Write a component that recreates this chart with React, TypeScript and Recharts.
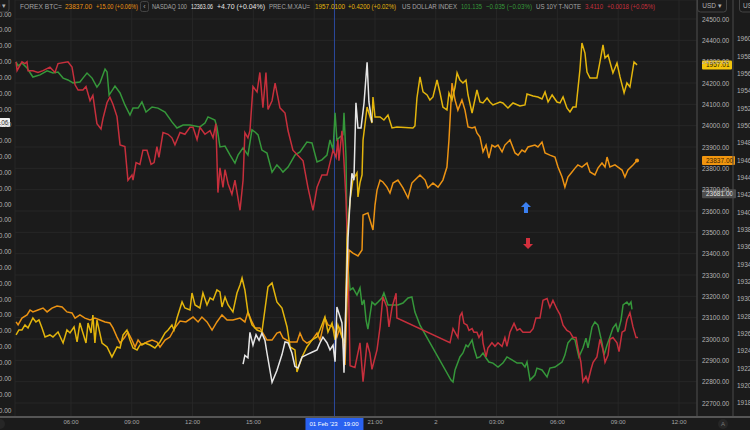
import React from 'react';
import { LineChart, Line, XAxis, YAxis, CartesianGrid, ReferenceLine, ReferenceDot } from 'recharts';

const BG = '#1b1b1b';
const FONT = '"Liberation Sans", Arial, sans-serif';

const C_BTC = '#ec9313';
const C_NDX = '#e6e6e6';
const C_XAU = '#e3b50c';
const C_DXY = '#35973a';
const C_TNX = '#c62f3c';

// time axis: hours since 01 Feb '23 00:00
const timeTicks = [6, 9, 12, 15, 18, 21, 24, 27, 30, 33, 36];
const timeLabels = ['06:00', '09:00', '12:00', '15:00', '', '21:00', '2', '03:00', '06:00', '09:00', '12:00'];

const btcTicks = [22700, 22800, 22900, 23000, 23100, 23200, 23300, 23400, 23500, 23600, 23700, 23800, 23900, 24000, 24100, 24200, 24300, 24400, 24500];
const xauTicks = [1918, 1920, 1922, 1924, 1926, 1928, 1930, 1932, 1934, 1936, 1938, 1940, 1942, 1944, 1946, 1948, 1950, 1952, 1954, 1956, 1958, 1960];
const ndxTicks = [12000, 12020, 12040, 12060, 12080, 12100, 12120, 12140, 12160, 12180, 12200, 12220, 12240, 12260, 12280, 12300, 12320, 12340, 12360, 12380, 12400, 12420, 12440, 12460, 12480, 12500];

// FOREX BTC=  [hour, price]
const btc: [number, number][] = [
  [3.29, 23080], [3.39, 23066], [3.58, 23098], [3.83, 23113], [3.98, 23136], [4.12, 23127], [4.37, 23136], [4.62, 23145],
  [4.82, 23127], [5.06, 23145], [5.31, 23155], [5.56, 23150], [5.80, 23127], [6.05, 23122], [6.20, 23098], [6.44, 23113],
  [6.69, 23098], [6.94, 23089], [7.18, 23098], [7.43, 23089], [7.68, 23080], [7.92, 23075], [8.07, 23052], [8.27, 23009],
  [8.42, 22981], [8.66, 23009], [8.81, 23033], [9.01, 22995], [9.16, 22962], [9.31, 22995], [9.50, 22972], [9.75, 22986],
  [10.00, 22995], [10.24, 22986], [10.39, 22962], [10.64, 22995], [10.88, 23009], [11.13, 23052], [11.38, 23084], [11.67, 23080],
  [12.02, 23103], [12.27, 23080], [12.46, 23103], [12.71, 23080], [12.96, 23042], [13.20, 23080], [13.45, 23113], [13.70, 23089],
  [13.99, 23089], [14.34, 23098], [14.58, 23080], [14.73, 23127], [14.93, 23080], [15.08, 23052], [15.32, 23052], [15.47, 23028],
  [15.67, 22995], [15.92, 22995], [16.16, 23028], [16.31, 23033], [16.46, 23005], [16.81, 22986], [17.15, 22986], [17.30, 23028],
  [17.45, 22995], [17.64, 22981], [17.89, 22995], [18.14, 23028], [18.29, 22995], [18.53, 23098], [18.68, 23066], [18.93, 23056],
  [19.12, 23009], [19.27, 23052], [19.42, 22995], [19.52, 22878], [19.62, 23183], [19.72, 23417], [19.91, 23403], [20.16, 23389],
  [20.36, 23417], [20.41, 23581], [20.65, 23591], [20.90, 23511], [21.00, 23628], [21.10, 23698], [21.25, 23745], [21.39, 23736],
  [21.59, 23712], [21.74, 23684], [21.89, 23731], [22.13, 23745], [22.38, 23708], [22.63, 23661], [22.82, 23731], [22.97, 23745],
  [23.22, 23769], [23.47, 23745], [23.61, 23708], [23.86, 23731], [24.11, 23712], [24.35, 23745], [24.55, 23806], [24.65, 23933],
  [24.80, 24200], [24.95, 24120], [25.09, 24073], [25.29, 24120], [25.44, 24073], [25.59, 23994], [25.79, 23989], [25.93, 23994],
  [26.03, 23966], [26.18, 23947], [26.33, 23877], [26.48, 23909], [26.62, 23848], [26.77, 23909], [26.92, 23900], [27.07, 23909],
  [27.27, 23877], [27.41, 23909], [27.66, 23933], [27.91, 23872], [28.06, 23862], [28.25, 23886], [28.40, 23877], [28.55, 23900],
  [28.89, 23909], [29.04, 23900], [29.24, 23923], [29.39, 23872], [29.63, 23862], [29.88, 23853], [30.03, 23806], [30.23, 23759],
  [30.37, 23712], [30.52, 23759], [30.72, 23783], [30.87, 23801], [31.01, 23816], [31.21, 23806], [31.46, 23825], [31.61, 23783],
  [31.85, 23769], [32.00, 23801], [32.20, 23825], [32.35, 23806], [32.45, 23853], [32.59, 23806], [32.84, 23816], [32.99, 23806],
  [33.19, 23792], [33.33, 23759], [33.48, 23792], [33.73, 23816], [33.93, 23837],
];

// PREC.M.XAU=
const xau: [number, number][] = [
  [3.29, 1925.85], [3.43, 1926.42], [3.58, 1926.42], [3.73, 1927.0], [3.88, 1926.66], [4.12, 1927.81], [4.27, 1927.35], [4.42, 1927.58],
  [4.57, 1926.66], [4.72, 1925.62], [4.96, 1925.85], [5.11, 1925.62], [5.36, 1926.19], [5.61, 1924.92], [5.80, 1926.42], [5.95, 1926.08],
  [6.15, 1926.77], [6.30, 1925.04], [6.44, 1927.23], [6.59, 1926.08], [6.74, 1924.92], [6.84, 1927.23], [6.99, 1926.08], [7.08, 1928.15],
  [7.18, 1924.92], [7.28, 1927.58], [7.53, 1924.92], [7.78, 1924.46], [8.02, 1923.31], [8.27, 1924.46], [8.42, 1924.35], [8.57, 1925.85],
  [8.76, 1926.42], [8.91, 1925.27], [9.06, 1924.35], [9.26, 1924.12], [9.40, 1924.69], [9.65, 1924.92], [9.90, 1924.69], [10.14, 1924.35],
  [10.39, 1925.04], [10.64, 1926.08], [10.79, 1926.42], [10.98, 1927.0], [11.08, 1926.42], [11.23, 1927.81], [11.48, 1929.66], [11.62, 1928.96],
  [11.87, 1928.73], [11.97, 1930.69], [12.12, 1929.31], [12.36, 1928.96], [12.51, 1930.69], [12.71, 1929.31], [12.86, 1930.12], [13.01, 1929.89],
  [13.20, 1931.04], [13.35, 1930.81], [13.45, 1929.08], [13.60, 1930.23], [13.75, 1929.31], [13.99, 1928.5], [14.19, 1930.69], [14.34, 1931.62],
  [14.44, 1932.42], [14.58, 1931.04], [14.73, 1928.5], [14.93, 1927.0], [15.18, 1926.42], [15.42, 1926.19], [15.72, 1931.39], [15.92, 1931.85],
  [16.16, 1929.66], [16.41, 1928.96], [16.66, 1926.77], [16.81, 1924.46], [17.05, 1924.12], [17.15, 1921.58], [17.40, 1923.31], [17.64, 1924.46],
  [17.89, 1925.27], [18.14, 1925.62], [18.38, 1927.0], [18.53, 1927.92], [18.68, 1926.19], [18.88, 1927.23], [19.03, 1925.27], [19.17, 1927.0],
  [19.37, 1925.62], [19.52, 1924.92], [19.62, 1936.81], [19.77, 1941.42], [19.91, 1943.73], [20.11, 1944.54], [20.16, 1941.77], [20.26, 1943.39],
  [20.36, 1944.31], [20.41, 1948.35], [20.61, 1952.15], [20.70, 1951.46], [20.85, 1950.31], [20.90, 1953.31], [21.00, 1951.0], [21.25, 1951.0],
  [21.44, 1950.65], [21.64, 1951.23], [21.84, 1949.73], [22.08, 1949.85], [22.87, 1949.73], [22.97, 1949.96], [23.07, 1953.19], [23.22, 1955.62],
  [23.37, 1953.89], [23.57, 1953.54], [23.71, 1952.96], [23.86, 1953.31], [24.06, 1955.27], [24.21, 1953.77], [24.35, 1952.15], [24.55, 1951.81],
  [24.65, 1953.77], [24.80, 1952.96], [24.95, 1954.46], [25.05, 1956.08], [25.19, 1955.27], [25.34, 1954.92], [25.49, 1955.27], [25.59, 1953.54],
  [25.79, 1951.46], [26.03, 1954.12], [26.18, 1952.73], [26.33, 1952.62], [26.53, 1953.19], [26.67, 1952.73], [26.82, 1952.39], [27.17, 1952.73],
  [27.31, 1952.62], [27.56, 1952.04], [27.81, 1952.62], [28.15, 1952.27], [28.40, 1952.39], [28.50, 1953.65], [28.80, 1953.42], [29.04, 1953.31],
  [29.24, 1953.08], [29.39, 1953.89], [29.54, 1952.73], [29.74, 1953.54], [29.98, 1952.73], [30.13, 1952.62], [30.28, 1953.31], [30.47, 1952.04],
  [30.62, 1951.58], [30.77, 1952.15], [30.92, 1952.15], [31.11, 1956.42], [31.21, 1959.54], [31.36, 1958.38], [31.46, 1956.19], [31.61, 1955.5],
  [31.95, 1955.5], [32.10, 1957.35], [32.25, 1959.31], [32.35, 1957.81], [32.50, 1958.15], [32.74, 1956.08], [32.94, 1957.23], [33.09, 1955.62],
  [33.29, 1953.77], [33.43, 1954.92], [33.58, 1954.46], [33.78, 1957.35], [33.93, 1957.01],
];

// NASDAQ 100 (cash session only)
const ndx: [number, number][] = [
  [14.49, 12058], [14.58, 12069], [14.73, 12066], [14.83, 12098], [14.98, 12082], [15.13, 12095], [15.28, 12088], [15.42, 12097],
  [15.57, 12088], [15.67, 12072], [15.92, 12035], [16.16, 12050], [16.41, 12070], [16.56, 12086], [16.71, 12085], [16.90, 12072],
  [17.05, 12055], [17.20, 12053], [17.40, 12067], [17.64, 12070], [17.89, 12073], [18.14, 12076], [18.29, 12085], [18.43, 12092],
  [18.63, 12085], [18.78, 12076], [18.93, 12082], [19.03, 12061], [19.12, 12130], [19.27, 12118], [19.37, 12110], [19.42, 12085],
  [19.47, 12047], [19.57, 12139], [19.67, 12218], [19.77, 12265], [19.86, 12299], [19.96, 12290], [20.06, 12388], [20.16, 12356],
  [20.31, 12356], [20.46, 12388], [20.61, 12439], [20.70, 12389], [20.85, 12363.06],
];

// US DOLLAR INDEX
const dxy: [number, number][] = [
  [3.29, 102.067], [3.39, 102.052], [3.58, 102.063], [3.83, 102.044], [4.12, 102.01], [4.47, 102.018], [4.82, 102.033], [5.11, 102.025],
  [5.36, 102.029], [5.61, 102.006], [5.85, 101.999], [6.10, 101.988], [6.44, 101.991], [6.59, 102.006], [6.79, 102.025], [7.04, 102.006],
  [7.28, 101.972], [7.43, 101.988], [7.68, 102.04], [7.78, 102.029], [7.88, 101.942], [8.17, 101.976], [8.42, 101.95], [8.66, 101.905],
  [8.91, 101.867], [9.06, 101.893], [9.31, 101.893], [9.50, 101.916], [9.70, 101.878], [10.00, 101.897], [10.29, 101.893], [10.64, 101.878],
  [10.98, 101.841], [11.23, 101.818], [11.53, 101.829], [11.87, 101.829], [12.36, 101.822], [12.61, 101.837], [12.76, 101.86], [13.10, 101.848],
  [13.20, 101.822], [13.35, 101.747], [13.60, 101.75], [13.85, 101.716], [14.09, 101.686], [14.24, 101.716], [14.49, 101.743], [14.73, 101.716],
  [14.93, 101.811], [15.08, 101.803], [15.23, 101.792], [15.42, 101.735], [15.67, 101.724], [15.92, 101.652], [16.16, 101.679], [16.31, 101.667],
  [16.46, 101.652], [16.71, 101.671], [17.05, 101.716], [17.30, 101.728], [17.64, 101.765], [17.89, 101.762], [18.14, 101.69], [18.38, 101.698],
  [18.63, 101.716], [18.78, 101.773], [18.93, 101.735], [19.03, 101.875], [19.12, 101.773], [19.27, 101.784], [19.42, 101.792], [19.47, 101.875],
  [19.57, 101.709], [19.62, 101.396], [19.67, 101.295], [19.77, 101.208], [19.91, 101.216], [20.11, 101.189], [20.26, 101.216], [20.36, 101.152],
  [20.46, 101.171], [20.56, 101.095], [20.65, 101.061], [20.85, 101.163], [21.00, 101.152], [21.15, 101.163], [21.34, 101.178], [21.44, 101.197],
  [21.64, 101.152], [21.89, 101.152], [22.13, 101.152], [22.38, 101.159], [22.63, 101.178], [22.82, 101.182], [22.97, 101.125], [23.22, 101.076],
  [24.75, 100.869], [24.85, 100.862], [24.95, 100.907], [25.19, 100.956], [25.34, 100.971], [25.49, 101.001], [25.59, 100.994], [25.79, 101.02],
  [25.88, 100.99], [26.03, 100.952], [26.18, 100.956], [26.33, 100.971], [26.48, 100.952], [26.62, 100.937], [26.82, 100.933], [27.07, 100.918],
  [27.31, 100.933], [27.51, 100.956], [27.76, 100.945], [28.01, 100.933], [28.25, 100.933], [28.40, 100.918], [28.50, 100.937], [28.65, 100.869],
  [28.89, 100.888], [28.99, 100.914], [29.24, 100.907], [29.49, 100.881], [29.63, 100.914], [29.88, 100.918], [30.03, 100.926], [30.23, 100.937],
  [30.37, 100.963], [30.52, 101.009], [30.72, 101.027], [30.87, 101.02], [31.06, 100.956], [31.26, 100.99], [31.41, 101.027], [31.51, 100.99],
  [31.71, 101.069], [31.85, 101.088], [32.00, 101.076], [32.20, 101.009], [32.30, 100.963], [32.45, 101.001], [32.59, 101.031], [32.74, 101.065],
  [32.89, 101.08], [32.99, 101.05], [33.14, 101.095], [33.24, 101.152], [33.43, 101.163], [33.53, 101.152], [33.63, 101.163], [33.68, 101.135],
];

// US 10Y T-NOTE yield
const tnx: [number, number][] = [
  [3.29, 3.567], [3.34, 3.562], [3.58, 3.567], [3.73, 3.566], [3.83, 3.567], [3.88, 3.562], [4.12, 3.562], [4.37, 3.561],
  [4.62, 3.562], [4.96, 3.564], [5.21, 3.561], [5.36, 3.566], [5.85, 3.567], [6.05, 3.564], [6.20, 3.554], [6.35, 3.551],
  [6.59, 3.551], [6.74, 3.553], [6.94, 3.545], [7.08, 3.548], [7.28, 3.532], [7.48, 3.529], [7.58, 3.535], [7.78, 3.544],
  [7.92, 3.547], [8.07, 3.543], [8.27, 3.536], [8.42, 3.52], [8.66, 3.519], [8.81, 3.5], [9.01, 3.503], [9.06, 3.5],
  [9.21, 3.51], [9.40, 3.509], [9.55, 3.517], [9.75, 3.517], [9.95, 3.509], [10.10, 3.51], [10.24, 3.519], [10.34, 3.513],
  [10.54, 3.527], [10.79, 3.526], [10.98, 3.524], [11.13, 3.52], [11.38, 3.527], [11.62, 3.526], [11.87, 3.53], [12.02, 3.53],
  [12.22, 3.523], [12.36, 3.53], [12.61, 3.526], [12.86, 3.528], [13.01, 3.524], [13.15, 3.532], [13.25, 3.493], [13.35, 3.507],
  [13.50, 3.496], [13.60, 3.506], [13.75, 3.498], [13.94, 3.492], [14.09, 3.5], [14.34, 3.483], [14.49, 3.5], [14.58, 3.527],
  [14.73, 3.524], [14.83, 3.528], [14.98, 3.553], [15.18, 3.55], [15.32, 3.561], [15.47, 3.541], [15.62, 3.561], [15.72, 3.54],
  [15.92, 3.545], [16.07, 3.555], [16.31, 3.541], [16.56, 3.538], [16.71, 3.528], [16.95, 3.517], [17.20, 3.514], [17.45, 3.511],
  [17.69, 3.496], [17.94, 3.483], [18.14, 3.496], [18.38, 3.503], [18.63, 3.503], [18.78, 3.51], [18.93, 3.517], [19.08, 3.513],
  [19.17, 3.523], [19.22, 3.511], [19.37, 3.528], [19.42, 3.521], [19.57, 3.489], [19.67, 3.453], [19.77, 3.395], [20.01, 3.394],
  [20.26, 3.408], [20.41, 3.386], [20.61, 3.408], [20.75, 3.402], [20.85, 3.393], [21.10, 3.404], [21.25, 3.417], [21.39, 3.434],
  [21.59, 3.428], [21.69, 3.417], [21.84, 3.428], [22.04, 3.436], [22.08, 3.422],
  [24.70, 3.408], [24.85, 3.416], [24.99, 3.413], [25.09, 3.411], [25.19, 3.423], [25.29, 3.425], [25.39, 3.419], [25.54, 3.418],
  [25.64, 3.415], [25.79, 3.416], [25.88, 3.414], [26.03, 3.414], [26.13, 3.411], [26.28, 3.414], [26.33, 3.408], [26.48, 3.4],
  [26.57, 3.405], [26.77, 3.408], [26.92, 3.406], [27.07, 3.408], [27.27, 3.406], [27.41, 3.411], [27.51, 3.406], [27.66, 3.414],
  [27.86, 3.419], [28.01, 3.415], [28.15, 3.416], [28.30, 3.414], [28.65, 3.414], [28.80, 3.416], [28.94, 3.422], [29.14, 3.422],
  [29.29, 3.432], [29.49, 3.433], [29.63, 3.428], [29.78, 3.432], [29.98, 3.427], [30.13, 3.424], [30.28, 3.418], [30.47, 3.415],
  [30.62, 3.414], [30.77, 3.411], [30.92, 3.411], [31.01, 3.405], [31.16, 3.397], [31.26, 3.386], [31.41, 3.389], [31.51, 3.386],
  [31.66, 3.393], [31.76, 3.397], [31.95, 3.4], [32.10, 3.41], [32.25, 3.404], [32.35, 3.397], [32.50, 3.401], [32.59, 3.41],
  [32.74, 3.411], [32.94, 3.408], [33.04, 3.403], [33.19, 3.414], [33.33, 3.415], [33.43, 3.421], [33.58, 3.425], [33.73, 3.417],
  [33.88, 3.411], [33.98, 3.411],
];

const quoteNames = ['FOREX BTC=', 'NASDAQ 100', 'PREC.M.XAU=', 'US DOLLAR INDEX', 'US 10Y T-NOTE'];
const quotePrices = ['23837.00', '12363.06', '1957.0100', '101.135', '3.4110'];
const quoteChanges = ['+15.00 (+0.06%)', '+4.70 (+0.04%)', '+0.4200 (+0.02%)', '\u22120.035 (\u22120.03%)', '+0.0018 (+0.05%)'];
const quoteColors = [C_BTC, C_NDX, C_XAU, C_DXY, C_TNX];
// header layout: [start, end] of name, price, change
const quoteSpans = [
  [[20, 62], [65, 92], [96, 138]],
  [[152, 187], [191, 213], [217, 265]],
  [[269, 310], [315, 345], [348, 396]],
  [[402, 457], [461, 482], [486, 532]],
  [[536, 581], [585, 603], [607, 655]],
];

// event markers on the BTC scale
const markers = [
  { t: 28.45, v: 23614, dir: 'up' },
  { t: 28.55, v: 23450, dir: 'down' },
];

const toRows = (arr: [number, number][]) => arr.map(([t, v]) => ({ t, v }));

// width of the left value axis (the chart is shifted 45px left so only its tail shows)
const LEFT_AXIS_W = 60;
const LINE_W = 1.5;

function AxisBox(props: any) {
  const { viewBox, text, bg, fg, side, offset, w } = props;
  if (!viewBox) return null;
  const y = viewBox.y;
  const x0 = side === 'right' ? viewBox.x + viewBox.width + offset : viewBox.x - offset - w;
  return (
    <g>
      <rect x={x0} y={y - 4.5} width={w} height={9} fill={bg} rx={1} />
      <text
        x={side === 'right' ? x0 + 4 : x0 + w - 1.5}
        y={y}
        textAnchor={side === 'right' ? 'start' : 'end'}
        dominantBaseline="central"
        fontSize={6.5}
        fontFamily={FONT}
        fill={fg}
      >
        {text}
      </text>
    </g>
  );
}

function TimeBox(props: any) {
  const { viewBox } = props;
  if (!viewBox) return null;
  const { x, y, height } = viewBox;
  const top = y + height;
  return (
    <g>
      <rect x={x - 29} y={top} width={58} height={13} fill="#2a62f0" />
      <text x={x - 25} y={top + 6.5} dominantBaseline="central" fontSize={6} fontFamily={FONT} fill="#fff">01 Feb '23</text>
      <text x={x + 9} y={top + 6.5} dominantBaseline="central" fontSize={6} fontFamily={FONT} fill="#fff">19:00</text>
    </g>
  );
}

function Arrow(props: any) {
  const { cx, cy, dir } = props;
  const s = dir === 'up' ? 1 : -1;
  const d = `M${cx} ${cy - 6 * s} L${cx + 5} ${cy - 1 * s} L${cx + 2} ${cy - 1 * s} L${cx + 2} ${cy + 5 * s} L${cx - 2} ${cy + 5 * s} L${cx - 2} ${cy - 1 * s} L${cx - 5} ${cy - 1 * s} Z`;
  return <path d={d} fill={dir === 'up' ? '#3b80f2' : '#d3303d'} />;
}

function ValueTick(props: any) {
  const { x, y, payload, textAnchor } = props;
  return (
    <text x={x} y={y} textAnchor={textAnchor} dominantBaseline="central" fontSize={6.5} fontFamily={FONT} fill="#b4b4b4">
      {Number(payload.value).toFixed(2)}
    </text>
  );
}

function LeftTick(props: any) {
  const { y, payload } = props;
  return (
    <text x={LEFT_AXIS_W - 3.5} y={y} textAnchor="end" dominantBaseline="central" fontSize={6.5} fontFamily={FONT} fill="#b4b4b4">
      {Number(payload.value).toFixed(2)}
    </text>
  );
}

export default function App() {
  const lastBtc = btc[btc.length - 1];
  return (
    <div style={{ position: 'fixed', left: 0, top: 0, width: 750, height: 430, overflow: 'hidden', background: BG, fontFamily: FONT }}>
      <div style={{ position: 'absolute', left: -45, top: 0 }}>
        <LineChart width={835} height={430} margin={{ top: 0, right: 0, bottom: 0, left: 0 }}>
          <CartesianGrid yAxisId="btc" stroke="#272727" strokeWidth={1} />
          <XAxis
            dataKey="t"
            type="number"
            domain={[3.237, 36.888]}
            allowDataOverflow
            ticks={timeTicks}
            interval={0}
            tickFormatter={(v: number) => timeLabels[timeTicks.indexOf(v)] ?? ''}
            height={13}
            axisLine={false}
            tickLine={false}
            tickSize={2}
            tickMargin={1}
            tick={{ fontSize: 6, fill: '#a6a6a6', fontFamily: FONT }}
          />
          <YAxis
            yAxisId="ndx"
            orientation="left"
            width={LEFT_AXIS_W}
            domain={[11991.2, 12517.7]}
            allowDataOverflow
            ticks={ndxTicks}
            interval={0}
            axisLine={{ stroke: '#4a4a4a' }}
            tickLine={false}
            tickSize={2}
            tickMargin={2}
            tick={<LeftTick />}
          />
          <YAxis
            yAxisId="btc"
            orientation="right"
            width={36}
            domain={[22634.4, 24589.1]}
            allowDataOverflow
            ticks={btcTicks}
            interval={0}
            axisLine={{ stroke: '#4a4a4a' }}
            tickLine={false}
            tickSize={2}
            tickMargin={3}
            tick={<ValueTick />}
          />
          <YAxis
            yAxisId="xau"
            orientation="right"
            width={57}
            domain={[1916.38, 1964.5]}
            allowDataOverflow
            ticks={xauTicks}
            interval={0}
            axisLine={{ stroke: '#4a4a4a' }}
            tickLine={false}
            tickSize={2}
            tickMargin={2}
            tick={<ValueTick />}
          />
          <YAxis yAxisId="dxy" hide domain={[100.73, 102.3]} allowDataOverflow />
          <YAxis yAxisId="tnx" hide domain={[3.366, 3.602]} allowDataOverflow />

          <ReferenceLine x={19} yAxisId="btc" stroke="#2b4a9e" strokeWidth={1} label={<TimeBox />} />

          <Line data={toRows(dxy)} dataKey="v" yAxisId="dxy" type="linear" stroke={C_DXY} strokeWidth={LINE_W} dot={false} isAnimationActive={false} />
          <Line data={toRows(tnx)} dataKey="v" yAxisId="tnx" type="linear" stroke={C_TNX} strokeWidth={LINE_W} dot={false} isAnimationActive={false} />
          <Line data={toRows(btc)} dataKey="v" yAxisId="btc" type="linear" stroke={C_BTC} strokeWidth={LINE_W} dot={false} isAnimationActive={false} />
          <Line data={toRows(xau)} dataKey="v" yAxisId="xau" type="linear" stroke={C_XAU} strokeWidth={LINE_W} dot={false} isAnimationActive={false} />
          <Line data={toRows(ndx)} dataKey="v" yAxisId="ndx" type="linear" stroke={C_NDX} strokeWidth={LINE_W} dot={false} isAnimationActive={false} />

          <ReferenceDot x={lastBtc[0]} y={lastBtc[1]} yAxisId="btc" r={2} fill={C_BTC} stroke="none" />
          {markers.map((m) => (
            <ReferenceDot key={m.dir} x={m.t} y={m.v} yAxisId="btc" r={5} shape={(p: any) => <Arrow {...p} dir={m.dir} />} />
          ))}

          <ReferenceLine y={23681} yAxisId="btc" stroke="none" label={<AxisBox text="23681.00" bg="#4d4d4d" fg="#e0e0e0" side="right" offset={0} w={34} />} />
          <ReferenceLine y={23837} yAxisId="btc" stroke="none" label={<AxisBox text="23837.00" bg="#f0950f" fg="#3a2400" side="right" offset={0} w={33} />} />
          <ReferenceLine y={1957.01} yAxisId="xau" stroke="none" label={<AxisBox text="1957.01" bg="#f2c40c" fg="#2a2000" side="right" offset={36} w={30} />} />
          <ReferenceLine y={12363.06} yAxisId="ndx" stroke="none" label={<AxisBox text="12363.06" bg="#f2f2f2" fg="#222" side="left" offset={0} w={42} />} />
        </LineChart>
      </div>

      {/* header quotes */}
      <svg width={750} height={14} style={{ position: 'absolute', left: 0, top: 0 }}>
        {quoteNames.map((n, i) => {
          const texts = [n, quotePrices[i], quoteChanges[i]];
          return texts.map((s, j) => {
            const [a, b] = quoteSpans[i][j];
            return (
              <text
                key={`${i}-${j}`}
                x={a}
                y={6.5}
                dominantBaseline="central"
                textLength={b - a}
                lengthAdjust="spacingAndGlyphs"
                fontSize={7.5}
                fontFamily={FONT}
                fill={j === 0 ? '#a3a3a3' : quoteColors[i]}
              >
                {s}
              </text>
            );
          });
        })}
        <rect x={140.5} y={1.5} width={8} height={10} rx={2} fill="none" stroke="#444" />
        <text x={144.5} y={6.5} dominantBaseline="central" textAnchor="middle" fontSize={7} fill="#aaa" fontFamily={FONT}>‹</text>
        <rect x={697.5} y={-3} width={29} height={15} rx={3} fill="none" stroke="#444" />
        <text x={712} y={5.5} dominantBaseline="central" textAnchor="middle" fontSize={6.5} fill="#b0b0b0" fontFamily={FONT}>USD ▾</text>
        <rect x={739.5} y={-3} width={29} height={15} rx={3} fill="none" stroke="#444" />
        <text x={743} y={5.5} dominantBaseline="central" fontSize={6.5} fill="#b0b0b0" fontFamily={FONT}>USD</text>
        <rect x={-20} y={-3} width={29} height={15} rx={3} fill="none" stroke="#444" />
        <text x={6} y={5.5} dominantBaseline="central" textAnchor="end" fontSize={6.5} fill="#b0b0b0" fontFamily={FONT}>0 ▾</text>
      </svg>

      {/* bottom axis rule and scale buttons */}
      <div style={{ position: 'absolute', left: 0, top: 416, width: 750, height: 1.5, background: '#555' }} />
      <div style={{ position: 'absolute', left: 718, top: 419, width: 10, height: 10, borderRadius: 5, background: '#262626', color: '#777', fontSize: 6, lineHeight: '10px', textAlign: 'center' }}>A</div>
      <div style={{ position: 'absolute', left: -5, top: 419, width: 10, height: 10, borderRadius: 5, background: '#262626' }} />
    </div>
  );
}
